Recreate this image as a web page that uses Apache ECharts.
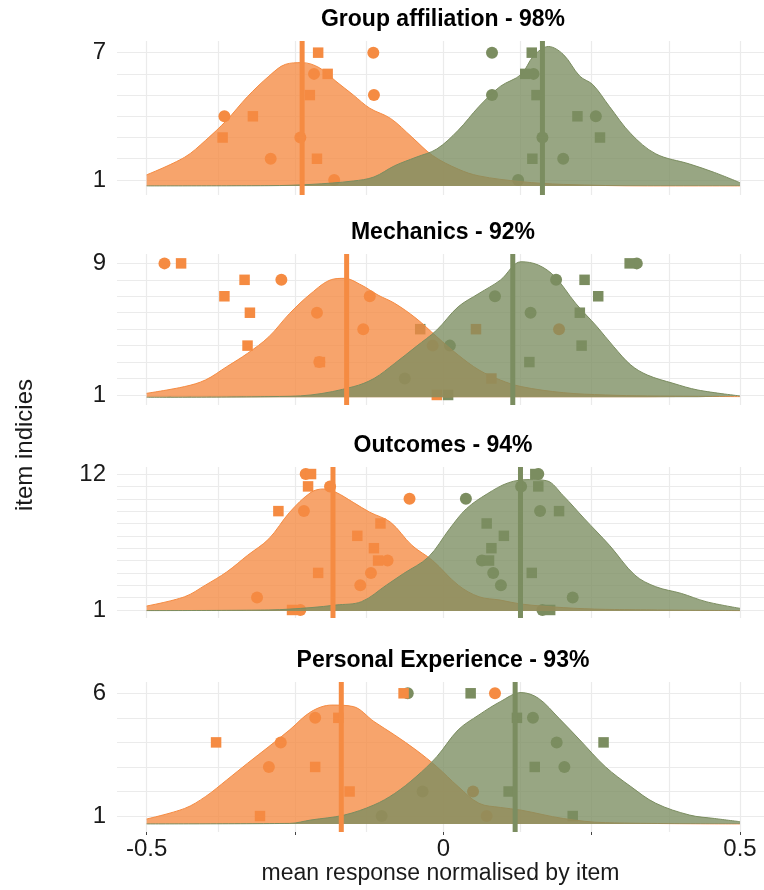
<!DOCTYPE html>
<html><head><meta charset="utf-8">
<script src="https://cdn.jsdelivr.net/npm/echarts@6/dist/echarts.min.js"></script>
<style>html,body{margin:0;padding:0;background:#fff}#c{width:764px;height:890px}</style>
</head><body><div id="c"></div>
<script>
// ---------------- data ----------------
const panelTitles = ['Group affiliation - 98%', 'Mechanics - 92%', 'Outcomes - 94%', 'Personal Experience - 93%'];
const itemCounts = [7, 9, 12, 6];
const xGridValues = [-0.5, -0.375, -0.25, -0.125, 0, 0.125, 0.25, 0.375, 0.5];
const xLabelValues = [-0.5, 0, 0.5];
const xTickValues = [-0.5, -0.25, 0, 0.25, 0.5];
const orangeMeans = [-0.238, -0.163, -0.186, -0.172];
const greenMeans = [0.167, 0.117, 0.130, 0.121];
const densityBase = [0.72, 0.86, 0.92, 0.68];

const p1OrangeDensity = [[-0.5,1.24],[-0.436,2.07],[-0.401,2.86],[-0.365,3.82],[-0.330,4.93],[-0.294,5.89],[-0.266,6.45],[-0.238,6.53],[-0.209,6.29],[-0.181,5.65],[-0.152,5.01],[-0.124,4.38],[-0.089,3.90],[-0.053,3.02],[-0.018,2.15],[0.025,1.51],[0.060,1.19],[0.131,0.92],[0.202,0.79],[0.344,0.72],[0.5,0.72]];
const p1GreenDensity = [[-0.5,0.72],[-0.294,0.73],[-0.223,0.79],[-0.152,0.95],[-0.117,1.14],[-0.082,1.67],[-0.046,2.07],[-0.011,2.46],[0.025,3.34],[0.060,4.46],[0.096,5.41],[0.131,5.97],[0.152,6.84],[0.177,7.29],[0.202,6.92],[0.230,5.89],[0.252,5.49],[0.280,4.46],[0.316,3.18],[0.358,2.23],[0.415,1.75],[0.457,1.35],[0.5,0.87]];
const p2OrangeDensity = [[-0.5,1.10],[-0.436,1.51],[-0.401,1.91],[-0.365,2.72],[-0.330,3.53],[-0.294,4.54],[-0.259,5.96],[-0.223,7.17],[-0.188,8.02],[-0.167,8.09],[-0.138,7.68],[-0.110,7.07],[-0.082,6.57],[-0.046,5.66],[-0.011,4.54],[0.025,3.43],[0.060,2.52],[0.096,1.91],[0.131,1.51],[0.202,1.14],[0.273,1.0],[0.344,0.94],[0.5,0.9]];
const p2GreenDensity = [[-0.5,0.86],[-0.294,0.9],[-0.223,1.0],[-0.152,1.5],[-0.117,2.0],[-0.082,2.92],[-0.046,3.94],[-0.011,4.95],[0.025,6.36],[0.060,7.17],[0.096,7.98],[0.131,9.1],[0.160,8.9],[0.188,8.19],[0.223,6.57],[0.259,5.15],[0.287,3.94],[0.316,2.82],[0.344,2.21],[0.387,1.71],[0.429,1.30],[0.5,0.94]];
const p3OrangeDensity = [[-0.5,1.32],[-0.436,2.07],[-0.401,3.01],[-0.365,4.08],[-0.330,5.42],[-0.294,6.76],[-0.259,8.91],[-0.223,10.52],[-0.202,10.79],[-0.181,10.52],[-0.152,9.71],[-0.124,8.91],[-0.089,8.1],[-0.053,6.23],[-0.018,5.0],[0.025,3.01],[0.060,2.07],[0.096,1.8],[0.131,1.48],[0.202,1.19],[0.273,1.05],[0.5,0.95]];
const p3GreenDensity = [[-0.5,0.95],[-0.294,1.0],[-0.223,1.19],[-0.181,1.4],[-0.138,1.67],[-0.096,3.01],[-0.067,3.95],[-0.025,5.29],[0.011,7.6],[0.039,9.2],[0.074,10.4],[0.110,11.3],[0.145,11.55],[0.174,11.46],[0.202,10.25],[0.238,8.37],[0.280,6.23],[0.323,3.81],[0.358,2.88],[0.401,2.34],[0.443,1.67],[0.5,1.13]];
const p4OrangeDensity = [[-0.5,0.88],[-0.436,1.31],[-0.401,1.79],[-0.365,2.47],[-0.330,3.15],[-0.294,3.83],[-0.259,4.51],[-0.223,5.25],[-0.188,5.52],[-0.152,5.46],[-0.117,4.85],[-0.082,4.30],[-0.046,3.69],[-0.011,3.01],[0.025,2.20],[0.060,1.52],[0.096,1.35],[0.131,1.24],[0.202,0.9],[0.273,0.73],[0.5,0.68]];
const p4GreenDensity = [[-0.5,0.68],[-0.259,0.70],[-0.223,0.84],[-0.167,1.04],[-0.117,1.45],[-0.082,1.92],[-0.046,2.60],[-0.011,3.42],[0.025,4.51],[0.060,5.12],[0.096,5.66],[0.131,6.03],[0.160,5.8],[0.195,4.98],[0.230,4.10],[0.273,3.01],[0.316,2.20],[0.358,1.52],[0.415,1.04],[0.457,0.9],[0.5,0.77]];

const p1OrangeCircles = [[-0.118,7],[-0.218,6],[-0.117,5],[-0.369,4],[-0.241,3],[-0.291,2],[-0.184,1]];
const p1OrangeSquares = [[-0.211,7],[-0.195,6],[-0.225,5],[-0.321,4],[-0.372,3],[-0.213,2]];
const p1GreenCircles = [[0.082,7],[0.152,6],[0.082,5],[0.257,4],[0.167,3],[0.202,2],[0.126,1]];
const p1GreenSquares = [[0.149,7],[0.138,6],[0.157,5],[0.226,4],[0.264,3],[0.150,2]];

const p2OrangeCircles = [[-0.470,9],[-0.273,8],[-0.124,7],[-0.213,6],[-0.135,5],[0.195,5],[-0.018,4],[-0.209,3]];
const p2OrangeSquares = [[-0.442,9],[-0.335,8],[-0.369,7],[-0.326,6],[0.055,5],[-0.330,4],[-0.208,3],[0.081,2],[-0.011,1]];
const p2GreenCircles = [[0.326,9],[0.190,8],[0.087,7],[0.147,6],[0.011,4],[-0.065,2]];
const p2GreenSquares = [[0.314,9],[0.238,8],[0.261,7],[0.230,6],[-0.039,5],[0.233,4],[0.145,3],[0.008,1]];

const p3OrangeCircles = [[-0.232,12],[-0.191,11],[-0.057,10],[-0.235,9],[-0.094,5],[-0.122,4],[-0.140,3],[-0.314,2],[-0.241,1]];
const p3OrangeSquares = [[-0.223,12],[-0.228,11],[-0.278,9],[-0.106,8],[-0.145,7],[-0.117,6],[-0.110,5],[-0.211,4],[-0.255,1]];
const p3GreenCircles = [[0.160,12],[0.131,11],[0.038,10],[0.163,9],[0.065,5],[0.084,4],[0.097,3],[0.218,2],[0.167,1]];
const p3GreenSquares = [[0.155,12],[0.160,11],[0.195,9],[0.073,8],[0.102,7],[0.081,6],[0.077,5],[0.149,4],[0.180,1]];

const p4OrangeCircles = [[0.087,6],[-0.216,5],[-0.274,4],[-0.294,3],[0.050,2],[0.073,1]];
const p4OrangeSquares = [[-0.067,6],[-0.177,5],[-0.383,4],[-0.216,3],[-0.158,2],[-0.309,1]];
const p4GreenCircles = [[-0.060,6],[0.151,5],[0.191,4],[0.204,3],[-0.035,2],[-0.104,1]];
const p4GreenSquares = [[0.046,6],[0.124,5],[0.270,4],[0.154,3],[0.110,2],[0.218,1]];

// ---------------- layout / style ----------------
const panels = [
  {od: p1OrangeDensity, gd: p1GreenDensity, oc: p1OrangeCircles, os: p1OrangeSquares, gc: p1GreenCircles, gs: p1GreenSquares},
  {od: p2OrangeDensity, gd: p2GreenDensity, oc: p2OrangeCircles, os: p2OrangeSquares, gc: p2GreenCircles, gs: p2GreenSquares},
  {od: p3OrangeDensity, gd: p3GreenDensity, oc: p3OrangeCircles, os: p3OrangeSquares, gc: p3GreenCircles, gs: p3GreenSquares},
  {od: p4OrangeDensity, gd: p4GreenDensity, oc: p4OrangeCircles, os: p4OrangeSquares, gc: p4GreenCircles, gs: p4GreenSquares}
];
const gridTops = [41, 254, 467, 682];
const gridHeights = [154, 151, 151, 150];
const yMins = [0.29, 0.39, 0.35, 0.35];
const yMaxs = [7.55, 9.57, 12.57, 6.46];
const X_MIN = -0.55, X_MAX = 0.5404;
const ORANGE = '#F58B42', GREEN = '#7B8D60', GRIDC = '#EBEBEB';
const FONT = '"Liberation Sans", Arial, Helvetica, sans-serif';
const TXT = '#1a1a1a';

const chart = echarts.init(document.getElementById('c'), null, {renderer: 'canvas'});

const grids = [], xAxes = [], yAxes = [], series = [], titles = [];
panels.forEach((p, i) => {
  const n = itemCounts[i];
  const last = i === panels.length - 1;
  grids.push({left: 117, right: 0, top: gridTops[i], height: gridHeights[i], containLabel: false});
  xAxes.push({
    type: 'value', gridIndex: i, min: X_MIN, max: X_MAX,
    axisLine: {show: false}, splitLine: {show: false},
    axisTick: {show: last, length: 3, customValues: xTickValues, lineStyle: {color: '#444', width: 1}},
    axisLabel: {show: last, customValues: xLabelValues, fontSize: 24, color: TXT, fontFamily: FONT, margin: 5,
      formatter: v => (v === 0 ? '0' : String(v))},
    name: last ? 'mean response normalised by item' : '',
    nameLocation: 'middle', nameGap: 29,
    nameTextStyle: {fontSize: 23, color: TXT, fontFamily: FONT}
  });
  yAxes.push({
    type: 'value', gridIndex: i, min: yMins[i], max: yMaxs[i],
    axisLine: {show: false}, axisTick: {show: false}, splitLine: {show: false},
    axisLabel: {customValues: [1, n], fontSize: 24, color: TXT, fontFamily: FONT, margin: 11}
  });
  titles.push({
    text: panelTitles[i], left: 443, top: gridTops[i] - 34, textAlign: 'center', padding: 0,
    textStyle: {fontSize: 23, fontWeight: 'bold', color: '#000', fontFamily: FONT, lineHeight: 26}
  });
  const items = [];
  for (let k = 1; k <= n; k++) items.push(k);
  // grid lines
  series.push({
    type: 'line', xAxisIndex: i, yAxisIndex: i, data: [], z: 0, silent: true,
    markLine: {
      silent: true, z: 0, symbol: ['none', 'none'], label: {show: false}, animation: false,
      lineStyle: {color: GRIDC, width: 1.2, type: 'solid'},
      emphasis: {disabled: true},
      data: xGridValues.map(v => ({xAxis: v})).concat(items.map(v => ({yAxis: v})))
    }
  });
  const scatter = (data, symbol, color, size) => ({
    type: 'scatter', xAxisIndex: i, yAxisIndex: i, data, symbol, symbolSize: size, z: 1,
    itemStyle: {color, opacity: 1}, silent: true
  });
  series.push(scatter(p.gc, 'circle', GREEN, 12));
  series.push(scatter(p.gs, 'rect', GREEN, 10.5));
  series.push(scatter(p.oc, 'circle', ORANGE, 12));
  series.push(scatter(p.os, 'rect', ORANGE, 10.5));
  const dens = (data, color, z) => ({
    type: 'line', xAxisIndex: i, yAxisIndex: i, data, smooth: 0.35, showSymbol: false, symbol: 'none', z,
    lineStyle: {color, width: 1}, silent: true,
    areaStyle: {color, opacity: 0.78, origin: densityBase[i]}
  });
  series.push(dens(p.od, ORANGE, 2));
  series.push(dens(p.gd, GREEN, 3));
  const meanLine = (m, color) => ({
    type: 'line', xAxisIndex: i, yAxisIndex: i, showSymbol: false, symbol: 'none', z: 4, silent: true,
    data: [[m, yMins[i]], [m, yMaxs[i]]], lineStyle: {color, width: 5}
  });
  series.push(meanLine(orangeMeans[i], ORANGE));
  series.push(meanLine(greenMeans[i], GREEN));
});

chart.setOption({
  animation: false,
  backgroundColor: '#fff',
  title: titles,
  grid: grids, xAxis: xAxes, yAxis: yAxes, series,
  graphic: [{
    type: 'text', silent: true, x: 25, y: 445, rotation: Math.PI / 2,
    style: {text: 'item indicies', fontSize: 24, fill: TXT, fontFamily: FONT, align: 'center', verticalAlign: 'middle'}
  }]
});
</script></body></html>
